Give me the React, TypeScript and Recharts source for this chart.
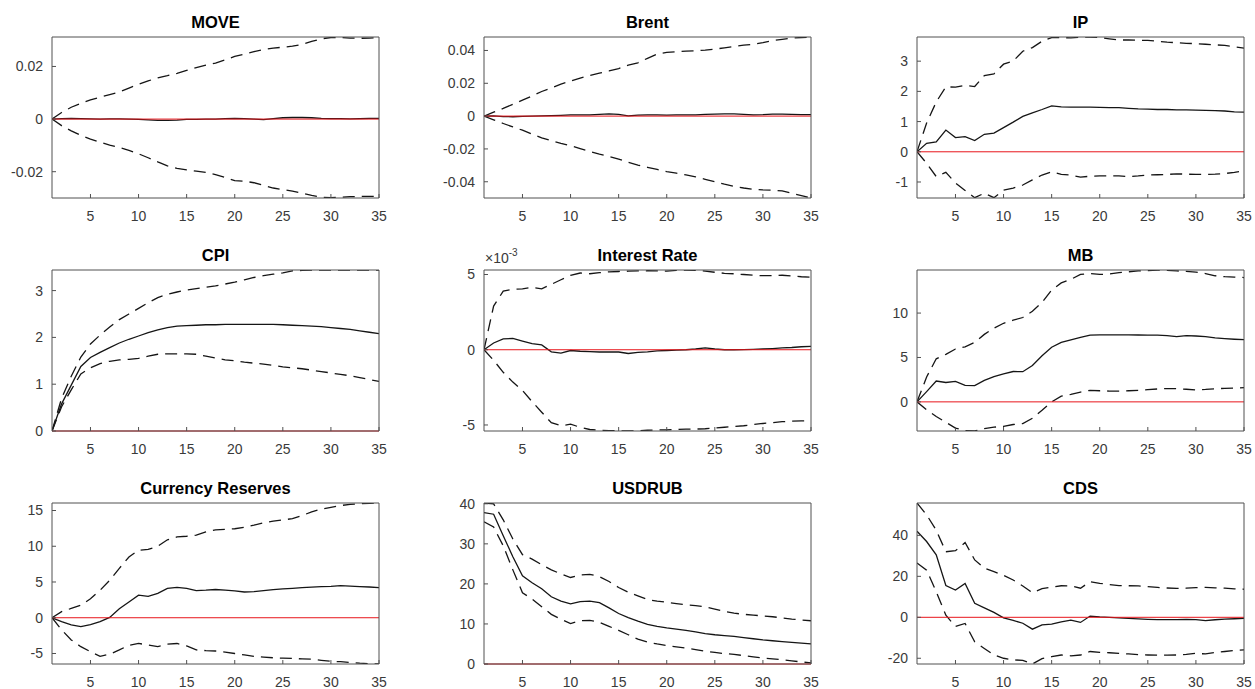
import React from 'react';
import { LineChart, Line, XAxis, YAxis, ReferenceLine } from 'recharts';

// impulse response horizons and shared x ticks
const horizons = [
  1, 2, 3, 4, 5, 6, 7, 8, 9, 10, 11, 12, 13, 14, 15, 16, 17, 18, 19, 20,
  21, 22, 23, 24, 25, 26, 27, 28, 29, 30, 31, 32, 33, 34, 35,
];
const xTicks = [5, 10, 15, 20, 25, 30, 35];

// MOVE
const moveMedian = [
  0, 0.0002, 0.0003, 0.0002, 0.0001, 0, 0.0001, 0.0001, 0, -0.0001, -0.0003, -0.0005, -0.0005, -0.0004, -0.0001,
  -0.0001, 0, 0, 0.0002, 0.0003, 0.0002, 0, -0.0002, 0.0002, 0.0005, 0.0006, 0.0006, 0.0005, 0.0003, 0.0002,
  0.0002, 0.0001, 0.0002, 0.0003, 0.0003,
];
const moveLower = [
  0, -0.0025, -0.0045, -0.0062, -0.0076, -0.0088, -0.0099, -0.0108, -0.0119, -0.0132, -0.0147, -0.0163, -0.0178,
  -0.0187, -0.0193, -0.0198, -0.0203, -0.0211, -0.0222, -0.0234, -0.0236, -0.0242, -0.0252, -0.0262, -0.0268,
  -0.0274, -0.0282, -0.029, -0.0297, -0.0299, -0.0297, -0.0295, -0.0294, -0.0294, -0.0294,
];
const moveUpper = [
  0, 0.0025, 0.0045, 0.006, 0.0073, 0.0083, 0.0093, 0.0103, 0.0118, 0.0132, 0.0145, 0.0157, 0.0165, 0.0174,
  0.0185, 0.0196, 0.0205, 0.0213, 0.0225, 0.0238, 0.0247, 0.0256, 0.0264, 0.027, 0.0273, 0.0277, 0.0284, 0.0295,
  0.0305, 0.031, 0.031, 0.0308, 0.0307, 0.0308, 0.0309,
];
const moveTicks = [-0.02, 0, 0.02];

// Brent
const brentMedian = [
  0, 0.0002, -0.0003, -0.0004, -0.0002, 0, 0.0002, 0.0003, 0.0005, 0.0007, 0.0008, 0.0008, 0.001, 0.0013, 0.001,
  0.0002, 0.0006, 0.0008, 0.0007, 0.0006, 0.0007, 0.0008, 0.0008, 0.001, 0.0012, 0.0014, 0.0013, 0.001, 0.0008,
  0.0009, 0.0012, 0.0012, 0.001, 0.0009, 0.0009,
];
const brentLower = [
  0, -0.0023, -0.0045, -0.0066, -0.0086, -0.011, -0.0132, -0.015, -0.0166, -0.018, -0.0198, -0.0215, -0.0232,
  -0.0246, -0.0262, -0.0282, -0.0298, -0.0312, -0.0325, -0.0338, -0.0348, -0.0358, -0.037, -0.0385, -0.04,
  -0.0415, -0.0428, -0.0438, -0.0446, -0.045, -0.0452, -0.0455, -0.047, -0.0485, -0.0499,
];
const brentUpper = [
  0, 0.0024, 0.0047, 0.0072, 0.0097, 0.0123, 0.015, 0.0172, 0.0195, 0.0213, 0.0232, 0.0248, 0.0262, 0.0275,
  0.029, 0.031, 0.0325, 0.0352, 0.0378, 0.0388, 0.0392, 0.0396, 0.0398, 0.0402, 0.0408, 0.0416, 0.0425, 0.0432,
  0.0438, 0.0448, 0.046, 0.0468, 0.0475, 0.0479, 0.0481,
];
const brentTicks = [-0.04, -0.02, 0, 0.02, 0.04];

// IP
const ipMedian = [
  0, 0.28, 0.33, 0.72, 0.47, 0.5, 0.37, 0.58, 0.62, 0.8, 0.98, 1.17, 1.29, 1.4, 1.52, 1.49, 1.48, 1.48, 1.48,
  1.47, 1.46, 1.46, 1.44, 1.42, 1.41, 1.4, 1.4, 1.39, 1.39, 1.38, 1.37, 1.36, 1.35, 1.32, 1.31,
];
const ipLower = [
  0, -0.38, -0.82, -0.68, -1.03, -1.28, -1.52, -1.37, -1.52, -1.27, -1.2, -1.1, -0.93, -0.77, -0.66, -0.75,
  -0.77, -0.84, -0.81, -0.8, -0.8, -0.8, -0.82, -0.8, -0.77, -0.76, -0.75, -0.73, -0.74, -0.75, -0.75, -0.74,
  -0.72, -0.68, -0.63,
];
const ipUpper = [
  0, 0.95, 1.65, 2.15, 2.14, 2.2, 2.16, 2.52, 2.58, 2.9, 3.0, 3.33, 3.45, 3.66, 3.78, 3.78, 3.77, 3.79, 3.8,
  3.78, 3.74, 3.7, 3.7, 3.69, 3.69, 3.66, 3.63, 3.61, 3.59, 3.58, 3.56, 3.54, 3.52, 3.48, 3.43,
];
const ipTicks = [-1, 0, 1, 2, 3];

// CPI
const cpiMedian = [
  0, 0.58, 0.98, 1.38, 1.57, 1.68, 1.78, 1.88, 1.96, 2.03, 2.1, 2.16, 2.21, 2.24, 2.25, 2.26, 2.27, 2.27, 2.28,
  2.28, 2.28, 2.28, 2.28, 2.28, 2.27, 2.26, 2.25, 2.24, 2.23, 2.21, 2.19, 2.17, 2.14, 2.11, 2.08,
];
const cpiLower = [
  0, 0.52, 0.88, 1.22, 1.35, 1.44, 1.49, 1.52, 1.53, 1.55, 1.6, 1.64, 1.65, 1.65, 1.65, 1.64, 1.6, 1.56, 1.52,
  1.5, 1.47, 1.45, 1.43, 1.4, 1.37, 1.35, 1.33, 1.3, 1.27, 1.24, 1.21, 1.18, 1.14, 1.1, 1.06,
];
const cpiUpper = [
  0, 0.7, 1.17, 1.58, 1.86, 2.05, 2.22, 2.38, 2.5, 2.62, 2.74, 2.85, 2.92, 2.97, 3.01, 3.04, 3.07, 3.1, 3.14,
  3.18, 3.23, 3.28, 3.32, 3.35, 3.38, 3.42, 3.43, 3.44, 3.44, 3.44, 3.44, 3.44, 3.44, 3.44, 3.44,
];
const cpiTicks = [0, 1, 2, 3];

// Interest Rate
const rateMedian = [
  0, 0.00045, 0.00072, 0.00075, 0.00058, 0.0004, 0.00032, -0.00014, -0.00022, -0.00005, -0.0001, -0.00013,
  -0.00015, -0.00015, -0.00015, -0.00025, -0.00018, -0.00014, -0.00008, -0.00005, -0.00002, 0, 0.00005,
  0.00012, 0.00005, 0, 0, 0.00001, 0.00003, 0.00005, 0.00008, 0.00012, 0.00015, 0.0002, 0.00022,
];
const rateLower = [
  0, -0.0007, -0.0015, -0.00215, -0.0027, -0.00345, -0.00415, -0.00485, -0.00505, -0.00495, -0.00515, -0.0053,
  -0.00535, -0.00537, -0.00538, -0.0054, -0.00538, -0.00535, -0.00533, -0.00533, -0.0053, -0.00527, -0.00527,
  -0.00525, -0.0052, -0.00515, -0.0051, -0.00505, -0.00497, -0.0049, -0.00485, -0.00478, -0.00475, -0.00473,
  -0.00472,
];
const rateUpper = [
  0, 0.0029, 0.0039, 0.00402, 0.00405, 0.00415, 0.00405, 0.00435, 0.00465, 0.00495, 0.0051, 0.00505, 0.00512,
  0.00518, 0.0052, 0.00522, 0.00524, 0.00525, 0.00524, 0.00522, 0.00527, 0.0053, 0.00528, 0.00522, 0.00515,
  0.00508, 0.00505, 0.005, 0.00495, 0.00492, 0.00492, 0.00495, 0.0049, 0.00485, 0.00482,
];
const rateTicks = [-0.005, 0, 0.005];

// MB
const mbMedian = [
  0, 1.15, 2.35, 2.18, 2.3, 1.85, 1.83, 2.42, 2.85, 3.15, 3.42, 3.4, 4.1, 5.2, 6.15, 6.7, 6.98, 7.25, 7.52,
  7.55, 7.55, 7.55, 7.54, 7.53, 7.52, 7.52, 7.45, 7.35, 7.45, 7.42, 7.35, 7.2, 7.12, 7.05, 7.0,
];
const mbLower = [
  0, -0.9, -1.65, -2.3, -2.95, -3.25, -3.28, -3.0, -2.85, -2.75, -2.55, -2.45, -1.85, -0.95, 0, 0.65, 0.85, 1.1,
  1.3, 1.25, 1.22, 1.22, 1.25, 1.3, 1.38, 1.45, 1.5, 1.48, 1.42, 1.35, 1.4, 1.48, 1.52, 1.55, 1.6,
];
const mbUpper = [
  0, 2.8, 4.85, 5.35, 5.95, 6.2, 6.7, 7.6, 8.3, 8.85, 9.2, 9.5, 10.2, 11.2, 12.6, 13.4, 13.8, 14.35, 14.45,
  14.35, 14.4, 14.55, 14.65, 14.75, 14.78, 14.85, 14.8, 14.75, 14.7, 14.62, 14.45, 14.2, 14.1, 14.05, 14.0,
];
const mbTicks = [0, 5, 10];

// Currency Reserves
const resMedian = [
  0, -0.55, -1.0, -1.25, -0.95, -0.55, 0.05, 1.25, 2.2, 3.15, 3.0, 3.4, 4.1, 4.25, 4.1, 3.8, 3.85, 3.95, 3.85,
  3.75, 3.6, 3.65, 3.78, 3.92, 4.05, 4.12, 4.2, 4.28, 4.35, 4.4, 4.48, 4.42, 4.35, 4.3, 4.22,
];
const resLower = [
  0, -1.7, -3.1, -4.05, -4.75, -5.4, -5.1, -4.5, -3.85, -3.6, -3.8, -4.05, -3.7, -3.6, -3.95, -4.5, -4.6, -4.65,
  -4.8, -5.0, -5.2, -5.4, -5.5, -5.6, -5.65, -5.7, -5.75, -5.8, -5.95, -6.1, -6.15, -6.25, -6.35, -6.42, -6.47,
];
const resUpper = [
  0, 0.85, 1.3, 1.75, 2.65, 3.85, 5.25, 6.9, 8.5, 9.45, 9.55, 10.0, 10.9, 11.3, 11.4, 11.55, 12.0, 12.3, 12.35,
  12.45, 12.65, 12.95, 13.3, 13.5, 13.7, 13.85, 14.3, 14.8, 15.2, 15.45, 15.7, 15.85, 15.95, 16.0, 16.05,
];
const resTicks = [-5, 0, 5, 10, 15];

// USDRUB
const rubMedian = [
  37.8, 37.4, 32, 26.8, 22, 20.3, 18.8, 16.8, 15.7, 15.0, 15.6, 15.7, 15.3, 14.0, 12.6, 11.6, 10.7, 9.9, 9.4,
  9.0, 8.7, 8.4, 8.0, 7.6, 7.3, 7.1, 6.9, 6.6, 6.3, 6.0, 5.8, 5.6, 5.4, 5.2, 5.0,
];
const rubLower = [
  35.5, 34.2, 29.5, 23.5, 17.8, 16.2, 14.3, 12.4, 11.2, 10.1, 10.8, 10.9, 10.4, 9.4, 8.4, 7.3, 6.2, 5.5, 5.0,
  4.6, 4.3, 4.0, 3.6, 3.2, 2.9, 2.6, 2.4, 2.1, 1.8, 1.5, 1.3, 1.1, 0.8, 0.5, 0.3,
];
const rubUpper = [
  40.2, 40.0, 36, 31.2, 27.3, 26.2, 24.8, 23.5, 22.5, 21.6, 22.2, 22.4, 21.8, 20.6, 19.1, 17.9, 17.0, 16.1, 15.7,
  15.4, 15.1, 14.8, 14.6, 14.3, 13.7, 13.1, 12.7, 12.4, 12.2, 12.0, 11.8, 11.5, 11.2, 11.0, 10.8,
];
const rubTicks = [0, 10, 20, 30, 40];

// CDS
const cdsMedian = [
  42, 37, 30.5, 15.5, 13.3, 16.5, 6.8, 4.6, 2.4, -0.3, -1.5, -2.9, -5.8, -3.7, -3.3, -2.2, -1.4, -2.5, 0.6, 0.2,
  0, -0.3, -0.5, -0.8, -1.0, -1.1, -1.1, -1.1, -1.0, -1.1, -1.6, -1.2, -0.9, -0.7, -0.5,
];
const cdsLower = [
  26.5, 23, 12.5, 1, -4.5, -3, -12, -15.2, -18.4, -20, -20.8, -21, -22.8, -20.2, -19.2, -18.4, -18.8, -18.4,
  -16.7, -17.1, -17.3, -17.6, -17.9, -18.2, -18.4, -18.5, -18.5, -18.4, -18.1, -17.6, -17.9, -17.2, -16.7,
  -16.2, -15.9,
];
const cdsUpper = [
  55.8, 50, 42.5, 32, 32.5, 36.5, 28, 24, 22.3, 20.5, 18.2, 15.3, 12, 14, 14.7, 15.4, 15.3, 14.2, 17.4, 16.6,
  16.0, 15.5, 15.4, 15.3, 15.0, 14.6, 14.3, 14.1, 14.2, 14.5, 14.6, 14.4, 14.2, 13.9, 13.7,
];
const cdsTicks = [-20, 0, 20, 40];

type Panel = {
  title: string;
  median: number[];
  lower: number[];
  upper: number[];
  domain: [number, number];
  ticks: number[];
  scaled?: boolean;
};

const panels: Panel[] = [
  { title: 'MOVE', median: moveMedian, lower: moveLower, upper: moveUpper, domain: [-0.03, 0.0312], ticks: moveTicks },
  { title: 'Brent', median: brentMedian, lower: brentLower, upper: brentUpper, domain: [-0.0499, 0.0482], ticks: brentTicks },
  { title: 'IP', median: ipMedian, lower: ipLower, upper: ipUpper, domain: [-1.53, 3.8], ticks: ipTicks },
  { title: 'CPI', median: cpiMedian, lower: cpiLower, upper: cpiUpper, domain: [0, 3.44], ticks: cpiTicks },
  { title: 'Interest Rate', median: rateMedian, lower: rateLower, upper: rateUpper, domain: [-0.0054, 0.0053], ticks: rateTicks, scaled: true },
  { title: 'MB', median: mbMedian, lower: mbLower, upper: mbUpper, domain: [-3.28, 14.85], ticks: mbTicks },
  { title: 'Currency Reserves', median: resMedian, lower: resLower, upper: resUpper, domain: [-6.47, 16.05], ticks: resTicks },
  { title: 'USDRUB', median: rubMedian, lower: rubLower, upper: rubUpper, domain: [0, 40.2], ticks: rubTicks },
  { title: 'CDS', median: cdsMedian, lower: cdsLower, upper: cdsUpper, domain: [-22.8, 55.8], ticks: cdsTicks },
];

const FONT = '"Liberation Sans", Arial, Helvetica, sans-serif';
const COL_LEFT = [52, 484, 917];
const ROW_TOP = [37, 270, 503];
const BOX_W = 327;
const BOX_H = 161;
const PAD_L = 70;
const PAD_T = 40;
const PAD_R = 15;
const PAD_B = 30;
const AXIS_COLOR = '#505050';
const TICK_STYLE = { fill: '#3a3a3a', fontSize: 14, fontFamily: FONT };
const DASH = '12 7';

function IrfPanel({ panel, left, top }: { panel: Panel; left: number; top: number }) {
  const rows = horizons.map((h, i) => ({
    h,
    med: panel.median[i],
    lo: panel.lower[i],
    hi: panel.upper[i],
  }));
  const w = BOX_W + PAD_L + PAD_R;
  const h = BOX_H + PAD_T + PAD_B;
  const fmt = (v: number) => (panel.scaled ? String(Math.round(v * 1000)) : String(v));

  return (
    <div style={{ position: 'absolute', left: left - PAD_L, top: top - PAD_T, width: w, height: h }}>
      <LineChart
        width={w}
        height={h}
        data={rows}
        margin={{ top: PAD_T - 1, right: PAD_R - 1, bottom: PAD_B - 25, left: PAD_L - 60 }}
      >
        <XAxis
          dataKey="h"
          type="number"
          domain={[1, 35]}
          ticks={xTicks}
          interval={0}
          allowDataOverflow
          height={25}
          tickSize={-4}
          tickMargin={17}
          stroke={AXIS_COLOR}
          tick={TICK_STYLE}
        />
        <XAxis
          xAxisId="top"
          orientation="top"
          dataKey="h"
          type="number"
          domain={[1, 35]}
          ticks={xTicks}
          interval={0}
          allowDataOverflow
          height={1}
          tickSize={-4}
          tick={false}
          stroke={AXIS_COLOR}
        />
        <YAxis
          type="number"
          domain={panel.domain}
          ticks={panel.ticks}
          interval={0}
          allowDataOverflow
          width={60}
          tickSize={-4}
          tickMargin={13}
          tickFormatter={fmt}
          stroke={AXIS_COLOR}
          tick={TICK_STYLE}
        />
        <YAxis
          yAxisId="right"
          orientation="right"
          type="number"
          domain={panel.domain}
          ticks={panel.ticks}
          interval={0}
          allowDataOverflow
          width={1}
          tickSize={-4}
          tick={false}
          stroke={AXIS_COLOR}
        />
        <Line dataKey="lo" stroke="#151515" strokeWidth={1.3} strokeDasharray={DASH} dot={false} isAnimationActive={false} />
        <Line dataKey="hi" stroke="#151515" strokeWidth={1.3} strokeDasharray={DASH} dot={false} isAnimationActive={false} />
        <Line dataKey="med" stroke="#151515" strokeWidth={1.3} dot={false} isAnimationActive={false} />
        <ReferenceLine y={0} stroke="#e8151b" strokeWidth={1} />
      </LineChart>
      <div
        style={{
          position: 'absolute',
          left: PAD_L,
          top: PAD_T - 25,
          width: BOX_W,
          height: 20,
          lineHeight: '20px',
          textAlign: 'center',
          fontFamily: FONT,
          fontWeight: 'bold',
          fontSize: 16.5,
          color: '#000',
        }}
      >
        {panel.title}
      </div>
      {panel.scaled && (
        <div
          style={{
            position: 'absolute',
            left: PAD_L + 1,
            top: PAD_T - 19,
            lineHeight: '14px',
            fontFamily: FONT,
            fontSize: 14,
            color: '#3a3a3a',
            whiteSpace: 'nowrap',
          }}
        >
          {'\u00d710'}
          <sup style={{ fontSize: 10, verticalAlign: 'top', position: 'relative', top: -5 }}>-3</sup>
        </div>
      )}
    </div>
  );
}

export default function App() {
  return (
    <div style={{ position: 'absolute', left: 0, top: 0, width: 1255, height: 689, background: '#fff', overflow: 'hidden' }}>
      {panels.map((p, i) => (
        <IrfPanel key={p.title} panel={p} left={COL_LEFT[i % 3]} top={ROW_TOP[Math.floor(i / 3)]} />
      ))}
    </div>
  );
}
